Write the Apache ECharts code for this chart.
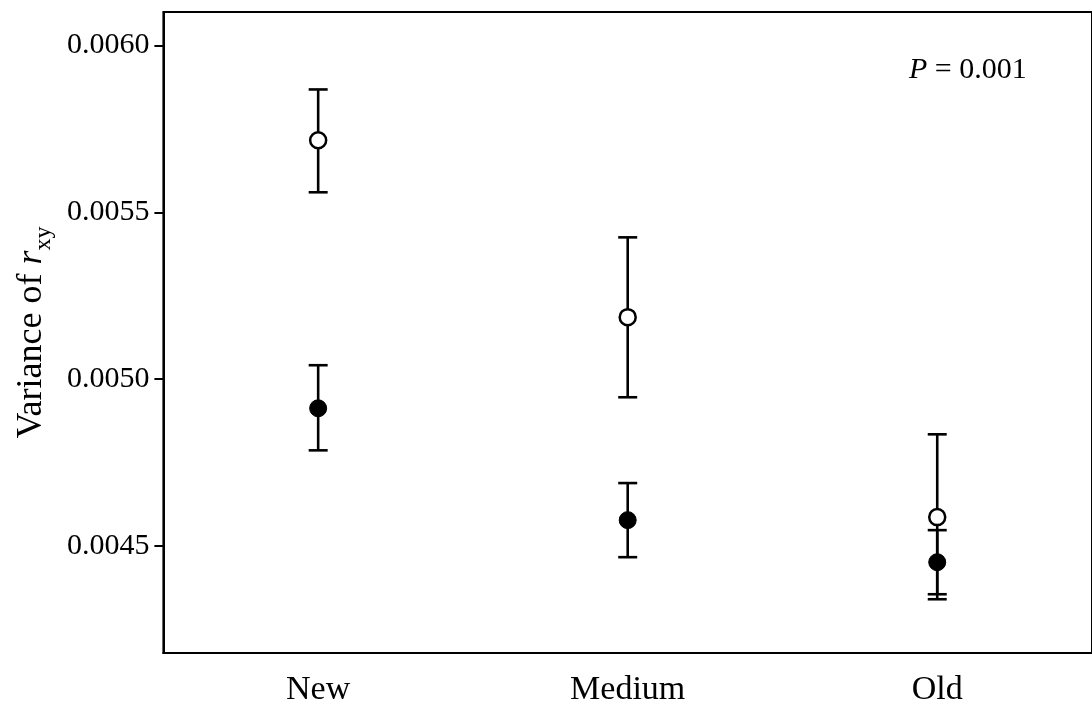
<!DOCTYPE html>
<html>
<head>
<meta charset="utf-8">
<script src="https://cdn.jsdelivr.net/npm/echarts@6/dist/echarts.min.js"></script>
<style>
  html, body { margin: 0; padding: 0; background: #fff; }
  #chart { width: 1092px; height: 711px; }
</style>
</head>
<body>
<div id="chart"></div>
<script>
// data
var categories = ['New', 'Medium', 'Old'];
var yTicks = [0.0045, 0.0050, 0.0055, 0.0060];

var openMean = [0.005716, 0.005186, 0.004587];
var openHigh = [0.005868, 0.005425, 0.004835];
var openLow  = [0.005560, 0.004946, 0.004341];

var filledMean = [0.004913, 0.004578, 0.004452];
var filledHigh = [0.005042, 0.004689, 0.004548];
var filledLow  = [0.004787, 0.004467, 0.004356];

var serif = 'Liberation Serif, Times New Roman, serif';

function barData(high, low) {
  return categories.map(function (c, i) { return [i, high[i], low[i]]; });
}
function pointData(mean) {
  return categories.map(function (c, i) { return [i, mean[i]]; });
}

function renderErrorBar(params, api) {
  var x = api.value(0);
  var top = api.coord([x, api.value(1)]);
  var bot = api.coord([x, api.value(2)]);
  var hw = 9.5;
  var st = { stroke: '#000', lineWidth: 2.6 };
  return {
    type: 'group',
    children: [
      { type: 'line', shape: { x1: top[0], y1: top[1], x2: bot[0], y2: bot[1] }, style: st },
      { type: 'line', shape: { x1: top[0] - hw, y1: top[1], x2: top[0] + hw, y2: top[1] }, style: st },
      { type: 'line', shape: { x1: bot[0] - hw, y1: bot[1], x2: bot[0] + hw, y2: bot[1] }, style: st }
    ]
  };
}

var chart = echarts.init(document.getElementById('chart'));
chart.setOption({
  animation: false,
  backgroundColor: '#fff',
  grid: {
    left: 163, top: 12, width: 930, height: 641,
    show: true, borderColor: '#000', borderWidth: 2
  },
  xAxis: {
    type: 'category',
    data: categories,
    boundaryGap: true,
    axisLine: { lineStyle: { color: '#000', width: 2 } },
    axisTick: { alignWithLabel: true, length: 9, lineStyle: { color: '#000', width: 2 } },
    axisLabel: { color: '#000', fontFamily: serif, fontSize: 34, margin: 20 }
  },
  yAxis: {
    type: 'value',
    min: 0.00418,
    max: 0.0061,
    splitLine: { show: false },
    axisLine: { show: true, lineStyle: { color: '#000', width: 2 } },
    axisTick: { show: true, customValues: yTicks, length: 9, lineStyle: { color: '#000', width: 2 } },
    axisLabel: {
      customValues: yTicks,
      color: '#000', fontFamily: serif, fontSize: 30, margin: 14,
      formatter: function (v) { return v.toFixed(4); }
    },
    name: 'Variance of {it|r}{sub|xy}',
    nameLocation: 'middle',
    nameRotate: 90,
    nameGap: 106,
    nameTextStyle: {
      color: '#000', fontFamily: serif, fontSize: 36, lineHeight: 48,
      rich: {
        it: { fontFamily: serif, fontStyle: 'italic', fontSize: 36, lineHeight: 48, color: '#000' },
        sub: { fontFamily: serif, fontSize: 24, lineHeight: 28, verticalAlign: 'bottom', color: '#000' }
      }
    }
  },
  graphic: [{
    type: 'text',
    left: 909,
    top: 55,
    style: {
      text: '{it|P} = 0.001',
      font: '30px ' + serif,
      fill: '#000',
      rich: {
        it: { fontFamily: serif, fontStyle: 'italic', fontSize: 30, fill: '#000' }
      }
    }
  }],
  series: [
    {
      name: 'open bars', type: 'custom', renderItem: renderErrorBar,
      data: barData(openHigh, openLow), z: 2
    },
    {
      name: 'filled bars', type: 'custom', renderItem: renderErrorBar,
      data: barData(filledHigh, filledLow), z: 2
    },
    {
      name: 'open', type: 'scatter', data: pointData(openMean), symbol: 'circle', symbolSize: 16,
      itemStyle: { color: '#fff', borderColor: '#000', borderWidth: 2.5, opacity: 1 }, z: 3
    },
    {
      name: 'filled', type: 'scatter', data: pointData(filledMean), symbol: 'circle', symbolSize: 17,
      itemStyle: { color: '#000', borderColor: '#000', borderWidth: 1, opacity: 1 }, z: 4
    }
  ]
});
</script>
</body>
</html>
